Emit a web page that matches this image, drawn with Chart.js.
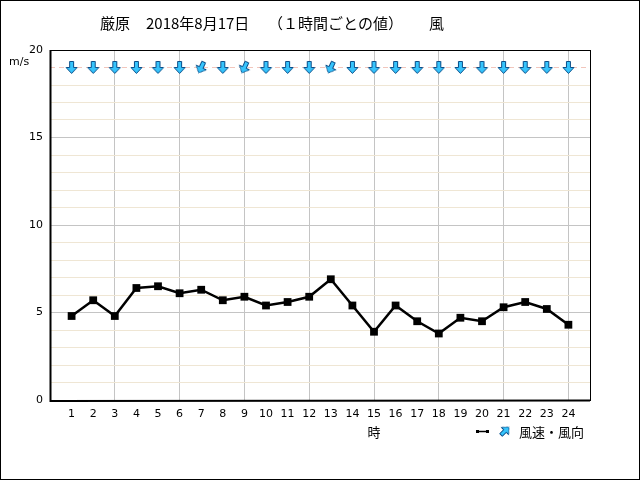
<!DOCTYPE html>
<html>
<head>
<meta charset="utf-8">
<script src="https://cdn.jsdelivr.net/npm/chart.js@4/dist/chart.umd.min.js"></script>
<style>
  body { margin: 0; background: #fff; }
  #wrap { width: 640px; height: 480px; }
</style>
</head>
<body>
<div id="wrap"><canvas id="windChart" width="640" height="480"></canvas></div>
<script>
// データ（1時間ごとの値）
const hours = [1, 2, 3, 4, 5, 6, 7, 8, 9, 10, 11, 12, 13, 14, 15, 16, 17, 18, 19, 20, 21, 22, 23, 24];
const windSpeed = [4.8, 5.7, 4.8, 6.4, 6.5, 6.1, 6.3, 5.7, 5.9, 5.4, 5.6, 5.9, 6.9, 5.4, 3.9, 5.4, 4.5, 3.8, 4.7, 4.5, 5.3, 5.6, 5.2, 4.3];
const windDir = ['北', '北', '北', '北', '北', '北', '北北東', '北', '北北東', '北', '北', '北', '北北東', '北', '北', '北', '北', '北', '北', '北', '北', '北', '北', '北'];
const yTickLabels = [0, 5, 10, 15, 20];
const titleText = ['厳原', '2018年8月17日', '（１時間ごとの値）', '風'];

const dirDeg = { '北': 0, '北北東': 25, '北東': 45, '東北東': 67.5, '東': 90 };
const ARROW_ROW = 19;

// 矢印画像（下向き = 北の風）
function makeArrow() {
  const c = document.createElement('canvas');
  c.width = 15; c.height = 15;
  const g = c.getContext('2d');
  g.beginPath();
  g.moveTo(5.5, 1.5); g.lineTo(9.5, 1.5); g.lineTo(9.5, 7.5); g.lineTo(13, 7.5);
  g.lineTo(7.5, 13.5); g.lineTo(2, 7.5); g.lineTo(5.5, 7.5); g.closePath();
  g.fillStyle = '#36c4fc';
  g.fill();
  g.strokeStyle = '#0a4f8a';
  g.lineWidth = 1;
  g.stroke();
  return c;
}
const arrowImg = makeArrow();

const ctx = document.getElementById('windChart').getContext('2d');

const decor = {
  id: 'decor',
  afterDraw(chart) {
    const c = chart.ctx;
    const a = chart.chartArea;
    c.save();
    // プロット枠
    c.strokeStyle = '#000';
    c.lineWidth = 1;
    c.strokeRect(Math.round(a.left) + 0.5, Math.round(a.top) + 0.5, Math.round(a.right - a.left), Math.round(a.bottom - a.top));
    // 外枠
    c.strokeRect(0.5, 0.5, 639, 479);
    c.lineWidth = 2;
    c.beginPath();
    c.moveTo(Math.round(a.left) + 0.5, a.top); c.lineTo(Math.round(a.left) + 0.5, a.bottom + 1);
    c.lineTo(a.right, a.bottom + 0.5);
    c.stroke();

    c.fillStyle = '#000';
    c.textBaseline = 'middle';
    c.font = '15px "Noto Sans CJK JP"';
    c.fillText(titleText[0], 100, 23);
    c.fillText(titleText[1], 146, 23);
    c.fillText(titleText[2], 268, 23);
    c.fillText(titleText[3], 429, 23);

    c.font = '11px "DejaVu Sans"';
    c.fillText('m/s', 9, 62);

    c.font = '13px "Noto Sans CJK JP"';
    c.textAlign = 'center';
    c.fillText('時', chart.scales.x.getPixelForValue(15), 432);
    c.textAlign = 'left';
    c.fillText('風速・風向', 519, 432);

    // 凡例アイコン
    c.lineWidth = 1.5;
    c.beginPath(); c.moveTo(477, 431.5); c.lineTo(487, 431.5); c.stroke();
    c.fillRect(476, 430, 3, 3);
    c.fillRect(486, 430, 3, 3);
    c.translate(505, 431);
    c.rotate(225 * Math.PI / 180);
    c.drawImage(arrowImg, -7, -7, 14, 14);
    c.restore();
  }
};

new Chart(ctx, {
  type: 'line',
  data: {
    datasets: [
      {
        label: '風速',
        data: hours.map((h, i) => ({ x: h, y: windSpeed[i] })),
        borderColor: '#000',
        backgroundColor: '#000',
        borderWidth: 2.5,
        pointStyle: 'rect',
        pointRadius: 5.5,
        pointBorderWidth: 0,
        tension: 0
      },
      {
        label: '風向',
        data: hours.map(h => ({ x: h, y: ARROW_ROW })),
        showLine: false,
        pointStyle: arrowImg,
        pointRotation: c => dirDeg[windDir[c.dataIndex]] || 0
      }
    ]
  },
  options: {
    responsive: false,
    animation: false,
    layout: { padding: { top: 50, right: 50, left: 0, bottom: 0 } },
    plugins: { legend: { display: false }, tooltip: { enabled: false }, title: { display: false } },
    scales: {
      x: {
        type: 'linear',
        min: 0, max: 25,
        afterFit: s => { s.height = 80; },
        ticks: {
          stepSize: 1,
          autoSkip: false,
          maxRotation: 0,
          padding: 8,
          color: '#000',
          font: { family: '"DejaVu Sans"', size: 11 },
          callback: v => hours.includes(v) ? String(v) : ''
        },
        grid: {
          drawTicks: false,
          color: c => (c.tick && c.tick.value % 3 === 0 && c.tick.value > 0 && c.tick.value < 25) ? '#c4c4c4' : 'rgba(0,0,0,0)',
          lineWidth: 1
        },
        border: { display: false }
      },
      y: {
        min: 0, max: 20,
        afterFit: s => { s.width = 50; },
        ticks: {
          stepSize: 1,
          padding: 7,
          color: '#000',
          font: { family: '"DejaVu Sans"', size: 11 },
          callback: v => yTickLabels.includes(v) ? String(v) : ''
        },
        grid: {
          drawTicks: false,
          color: c => {
            if (!c.tick) return '#000';
            const v = c.tick.value;
            if (v % 5 === 0) return '#c4c4c4';
            if (v === ARROW_ROW) return '#f2c6bc';
            return '#efe6d4';
          },
          lineWidth: 1
        },
        border: {
          display: false,
          dash: c => (c.tick && c.tick.value === ARROW_ROW) ? [5, 4] : []
        }
      }
    }
  },
  plugins: [decor]
});
</script>
</body>
</html>
